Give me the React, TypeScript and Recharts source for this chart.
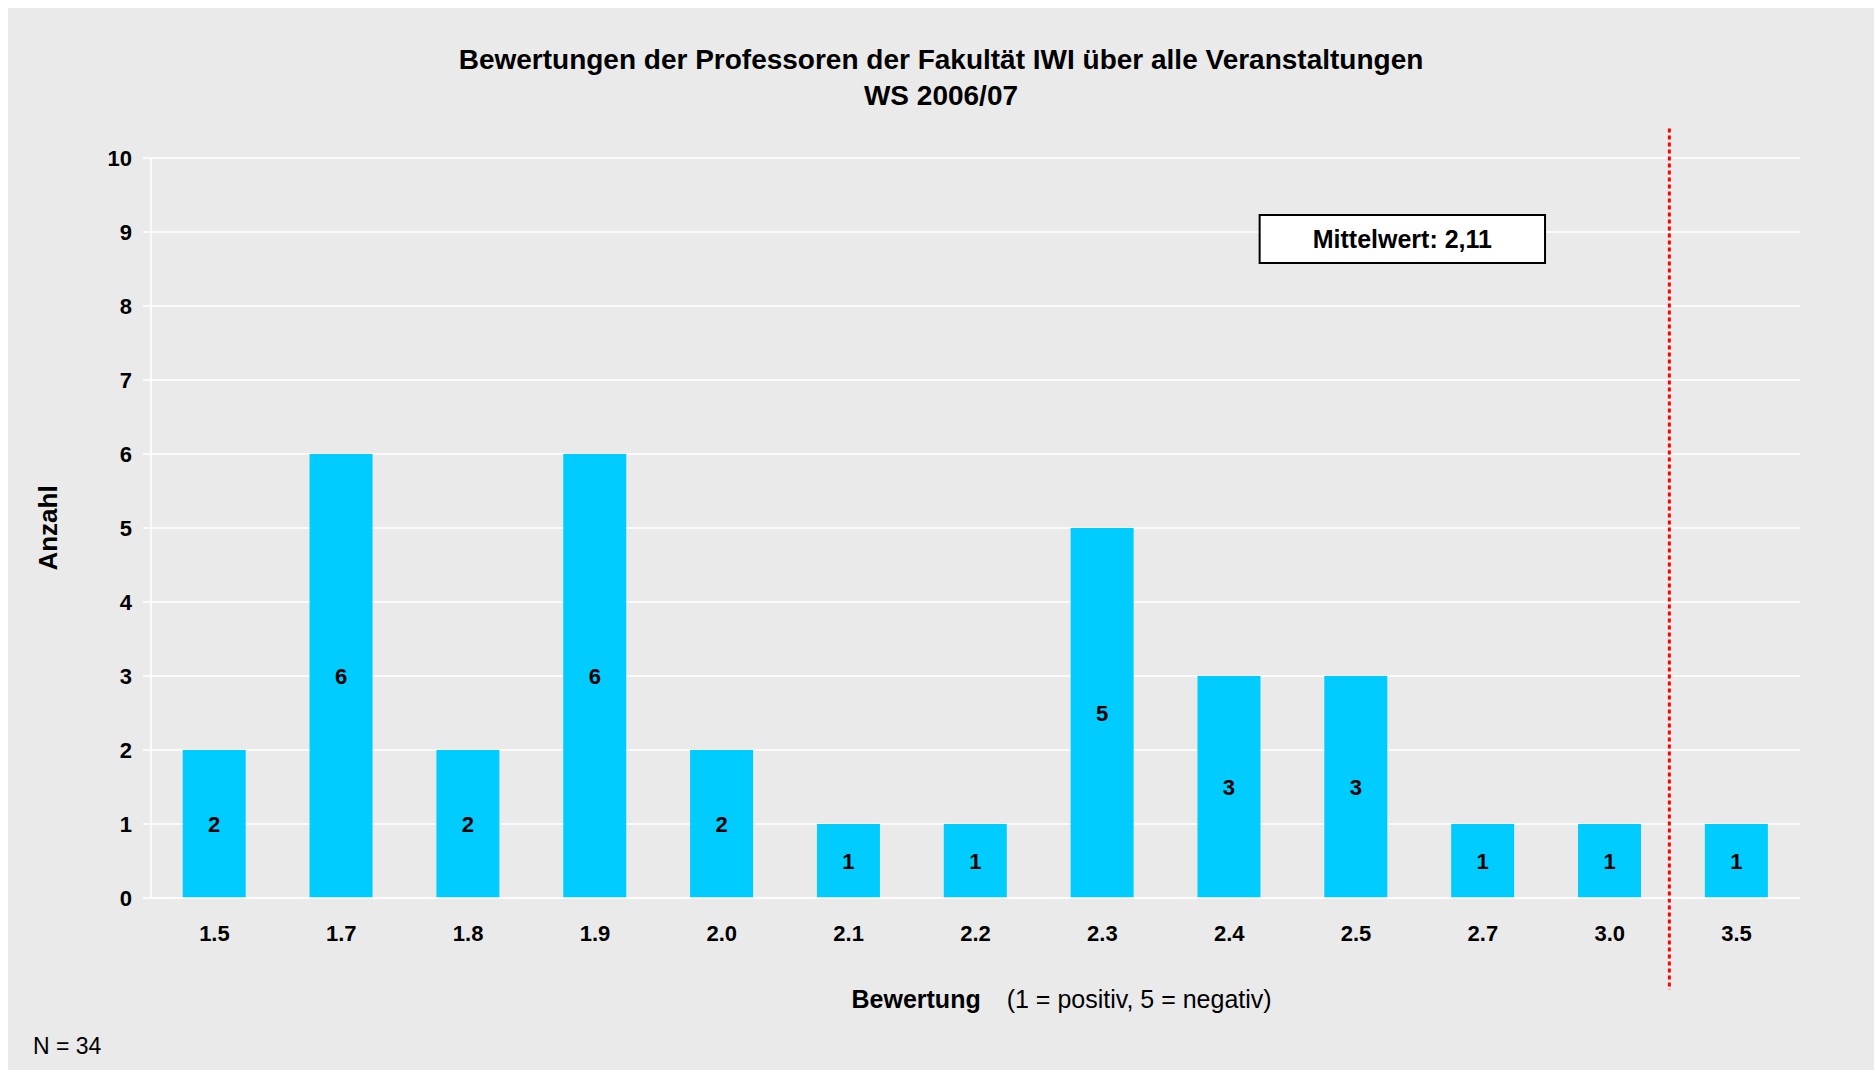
import { BarChart, Bar, XAxis, YAxis, CartesianGrid, LabelList, ReferenceLine, ReferenceArea } from 'recharts';

const categories = ['1.5', '1.7', '1.8', '1.9', '2.0', '2.1', '2.2', '2.3', '2.4', '2.5', '2.7', '3.0', '3.5'];
const counts = [2, 6, 2, 6, 2, 1, 1, 5, 3, 3, 1, 1, 1];
const yTicks = [0, 1, 2, 3, 4, 5, 6, 7, 8, 9, 10];

const titleLines = ['Bewertungen der Professoren der Fakultät IWI über alle Veranstaltungen', 'WS 2006/07'];
const meanLabel = 'Mittelwert: 2,11';
const sampleNote = 'N = 34';

const FONT = '"Liberation Sans", Arial, sans-serif';

// categories sit on a numeric axis at their index so the separator line can fall between two of them
const rows = categories.map((cat, i) => ({ idx: i, cat, count: counts[i] }));
const xTicks = categories.map((_, i) => i);

// x-axis title: bold word followed by the plain explanation
function XTitle({ viewBox }: any) {
  const cx = viewBox.x + viewBox.width / 2;
  return (
    <text x={cx - 124} y={991} dominantBaseline="central" fontFamily={FONT} fontSize={25} fill="#000">
      <tspan fontWeight="bold">Bewertung</tspan>
      <tspan dx={26}>(1 = positiv, 5 = negativ)</tspan>
    </text>
  );
}

function YTitle({ viewBox }: any) {
  const cy = viewBox.y + viewBox.height / 2;
  return (
    <text x={40} y={cy} transform={`rotate(-90, 40, ${cy})`} textAnchor="middle" dominantBaseline="central"
      fontFamily={FONT} fontSize={26} fontWeight="bold" fill="#000">
      Anzahl
    </text>
  );
}

export default function App() {
  return (
    <div style={{ position: 'absolute', left: 8, top: 8, width: 1866, height: 1062, background: '#eaeaea', fontFamily: FONT }}>
      <div style={{ position: 'absolute', top: 34, left: 0, width: 1866, textAlign: 'center', fontSize: 28, fontWeight: 'bold', lineHeight: '36px', color: '#000' }}>
        {titleLines.map((t) => <div key={t}>{t}</div>)}
      </div>
      <BarChart width={1866} height={1062} data={rows} margin={{ top: 150, right: 74, bottom: 142, left: 0 }} barCategoryGap="25%">
        <CartesianGrid vertical={false} stroke="#ffffff" strokeWidth={1.5} />
        <XAxis
          dataKey="idx"
          type="number"
          domain={[-0.5, 12.5]}
          allowDataOverflow
          ticks={xTicks}
          interval={0}
          tickFormatter={(i: number) => categories[i]}
          axisLine={{ stroke: '#ffffff', strokeWidth: 1.5 }}
          tickLine={false}
          tickSize={0}
          tickMargin={27}
          tick={{ fill: '#000', fontSize: 22, fontWeight: 'bold', fontFamily: FONT }}
          label={<XTitle />}
        />
        <YAxis
          domain={[0, 10]}
          ticks={yTicks}
          interval={0}
          width={143}
          axisLine={{ stroke: '#ffffff', strokeWidth: 1.5 }}
          tickLine={{ stroke: '#ffffff', strokeWidth: 1.5 }}
          tickSize={8}
          tickMargin={11}
          tick={{ fill: '#000', fontSize: 22, fontWeight: 'bold', fontFamily: FONT }}
          label={<YTitle />}
        />
        <Bar dataKey="count" fill="#00ccff" isAnimationActive={false}>
          <LabelList dataKey="count" position="center" fill="#000" fontSize={22} fontWeight="bold" fontFamily={FONT} />
        </Bar>
        <ReferenceLine
          segment={[{ x: 11.47, y: 10.4 }, { x: 11.47, y: -1.24 }]}
          stroke="#ff0000"
          strokeWidth={3}
          strokeDasharray="4 3"
          ifOverflow="visible"
        />
        <ReferenceArea
          x1={8.24}
          x2={10.49}
          y1={8.58}
          y2={9.23}
          fill="#ffffff"
          fillOpacity={1}
          stroke="#000"
          strokeWidth={2}
          ifOverflow="visible"
          label={{ value: meanLabel, position: 'center', fill: '#000', fontSize: 25, fontWeight: 'bold', fontFamily: FONT }}
        />
      </BarChart>
      <div style={{ position: 'absolute', left: 25, top: 1027, fontSize: 23, lineHeight: '22px', color: '#000' }}>{sampleNote}</div>
    </div>
  );
}
